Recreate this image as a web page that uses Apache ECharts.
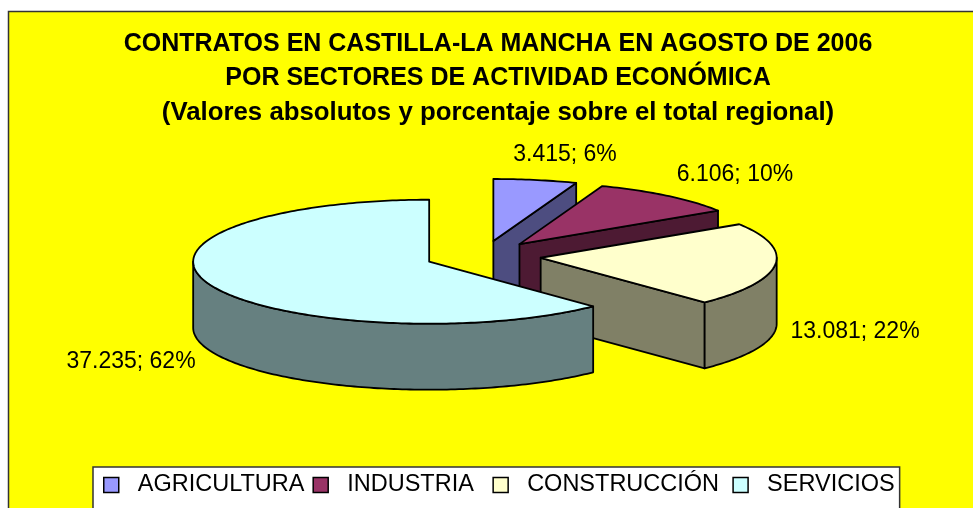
<!DOCTYPE html>
<html>
<head>
<meta charset="utf-8">
<script src="https://cdn.jsdelivr.net/npm/echarts@6/dist/echarts.min.js"></script>
<style>
html, body { margin: 0; padding: 0; background: #fff; }
#chart { width: 973px; height: 508px; }
</style>
</head>
<body>
<div id="chart"></div>
<script>
var categories = ['AGRICULTURA', 'INDUSTRIA', 'CONSTRUCCIÓN', 'SERVICIOS'];
var contratos = [3415, 6106, 13081, 37235];
var topColors = ['#9999FF', '#993366', '#FFFFCC', '#CCFFFF'];
var sideColors = ['#4D4D80', '#4D1A33', '#808066', '#668080'];
var titleLines = [
  'CONTRATOS EN CASTILLA-LA MANCHA EN AGOSTO DE 2006',
  'POR SECTORES DE ACTIVIDAD ECONÓMICA',
  '(Valores absolutos y porcentaje sobre el total regional)'
];
var titleSizes = [25, 25, 25.8];

// geometria de la tarta
var cx = 483, cy = 256, rx = 236, ry = 62, depth = 66, explode = 0.246;
// centro de cada etiqueta de datos
var labelX = [565, 735, 855, 131];
var labelY = [155, 175, 332, 362];

var total = contratos.reduce(function (a, b) { return a + b; }, 0);
var rad = Math.PI / 180;

function pt(ox, oy, deg) {
  return [ox + rx * Math.sin(deg * rad), oy - ry * Math.cos(deg * rad)];
}
function arc(ox, oy, a0, a1) {
  var pts = [];
  var n = Math.max(2, Math.ceil(Math.abs(a1 - a0)));
  for (var i = 0; i <= n; i++) {
    pts.push(pt(ox, oy, a0 + (a1 - a0) * i / n));
  }
  return pts;
}
function formatLabel(i) {
  var v = String(contratos[i]).replace(/\B(?=(\d{3})+$)/g, '.');
  return v + '; ' + Math.round(contratos[i] / total * 100) + '%';
}
function poly(points, fill) {
  return {
    type: 'polygon',
    shape: { points: points },
    style: { fill: fill, stroke: '#000', lineWidth: 1.8, lineJoin: 'round' }
  };
}

function renderSlice(params, api) {
  var idx = params.seriesIndex;
  var before = 0;
  for (var k = 0; k < idx; k++) before += contratos[k];
  var a0 = before / total * 360;
  var a1 = a0 + api.value(0) / total * 360;
  var mid = (a0 + a1) / 2;
  // cada porcion se separa del centro segun su angulo medio
  var ox = cx + explode * rx * Math.sin(mid * rad);
  var oy = cy - explode * ry * Math.cos(mid * rad);
  var side = sideColors[idx];
  var children = [];

  // pared radial visible
  if (Math.sin(a1 * rad) > 0.001) {
    var e = pt(ox, oy, a1);
    children.push(poly([[ox, oy], e, [e[0], e[1] + depth], [ox, oy + depth]], side));
  }
  if (Math.sin(a0 * rad) < -0.001) {
    var s = pt(ox, oy, a0);
    children.push(poly([[ox, oy], s, [s[0], s[1] + depth], [ox, oy + depth]], side));
  }
  // borde exterior (solo la parte frontal)
  var f0 = Math.max(a0, 90), f1 = Math.min(a1, 270);
  if (f1 > f0) {
    var upper = arc(ox, oy, f0, f1);
    var lower = arc(ox, oy + depth, f1, f0);
    children.push(poly(upper.concat(lower), side));
  }
  // cara superior
  children.push(poly([[ox, oy]].concat(arc(ox, oy, a0, a1)), topColors[idx]));
  // etiqueta
  children.push({
    type: 'text',
    z2: 10,
    style: {
      x: labelX[idx], y: labelY[idx], text: formatLabel(idx),
      fill: '#000', font: '23px "Liberation Sans"',
      align: 'center', verticalAlign: 'middle'
    }
  });
  return { type: 'group', children: children };
}

var series = categories.map(function (name, i) {
  return {
    name: name,
    type: 'custom',
    coordinateSystem: 'none',
    animation: false,
    silent: true,
    itemStyle: { color: topColors[i] },
    renderItem: renderSlice,
    data: [[contratos[i]]]
  };
});

var chart = echarts.init(document.getElementById('chart'), null, { renderer: 'canvas' });
chart.setOption({
  animation: false,
  backgroundColor: '#fff',
  graphic: [{
    type: 'rect',
    z: -10,
    shape: { x: 8.5, y: 11.5, width: 980, height: 510 },
    style: { fill: '#FFFF00', stroke: '#333', lineWidth: 1.5 }
  }],
  title: titleLines.map(function (t, i) {
    return {
      text: t,
      left: 498,
      textAlign: 'center',
      top: 32 + i * 34,
      padding: 0,
      textStyle: {
        fontFamily: 'Liberation Sans',
        fontWeight: 'bold',
        fontSize: titleSizes[i],
        color: '#000'
      }
    };
  }),
  legend: {
    data: categories,
    left: 93,
    top: 467,
    orient: 'horizontal',
    padding: [6, 5, 24, 10],
    backgroundColor: '#fff',
    borderColor: '#333',
    borderWidth: 1.5,
    itemWidth: 15,
    itemHeight: 15,
    itemGap: 8,
    icon: 'rect',
    selectedMode: false,
    itemStyle: { borderColor: '#000', borderWidth: 1.5 },
    formatter: function (name) {
      // huecos desiguales entre entradas, como en el original
      if (name === 'INDUSTRIA') return name + '{hueco|  }';
      if (name === 'CONSTRUCCIÓN') return name + '{hueco| }';
      return name;
    },
    textStyle: {
      fontFamily: 'Liberation Sans',
      fontSize: 23.5,
      color: '#000',
      padding: [0, 0, 0, 14],
      rich: {
        hueco: { fontSize: 19, fontFamily: 'Liberation Sans' }
      }
    }
  },
  series: series
});
</script>
</body>
</html>
